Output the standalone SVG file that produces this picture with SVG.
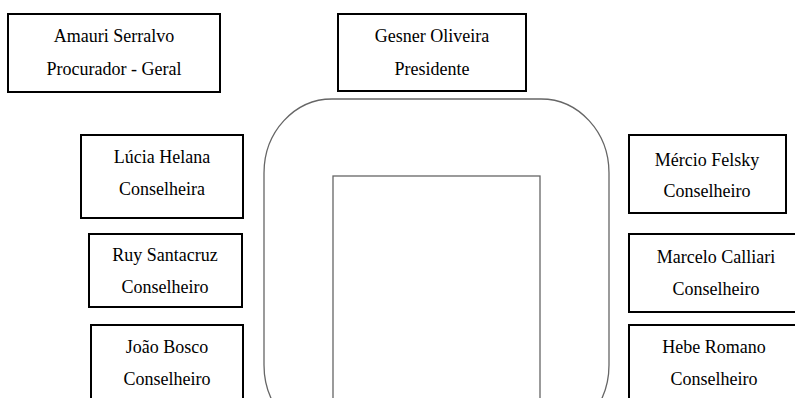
<svg xmlns="http://www.w3.org/2000/svg" width="795" height="398" viewBox="0 0 795 398">
<style>
.box{fill:#fff;stroke:#000;stroke-width:2}
.t{font-family:"Liberation Serif","Times New Roman",serif;font-size:18px;fill:#000;text-anchor:middle}
.room{fill:#fff;stroke:#666;stroke-width:1.3}
</style>
<rect width="795" height="398" fill="#fff"/>
<g id="room">
<rect class="room" x="264" y="99" width="345" height="340" rx="68" ry="74"/>
<rect class="room" x="333" y="176" width="207" height="260"/>
</g>
<g id="connectors"></g>
<g id="amauri"><rect class="box" x="8" y="14" width="212" height="78"/><text class="t" x="114" y="42">Amauri Serralvo</text><text class="t" x="114" y="75">Procurador - Geral</text></g>
<g id="gesner"><rect class="box" x="338" y="14" width="188" height="77"/><text class="t" x="432" y="42">Gesner Oliveira</text><text class="t" x="432" y="75">Presidente</text></g>
<g id="lucia"><rect class="box" x="81" y="135" width="162" height="83"/><text class="t" x="162" y="163">Lúcia Helana</text><text class="t" x="162" y="195">Conselheira</text></g>
<g id="ruy"><rect class="box" x="89" y="234" width="153" height="73"/><text class="t" x="165" y="261">Ruy Santacruz</text><text class="t" x="165" y="293">Conselheiro</text></g>
<g id="joao"><rect class="box" x="91" y="325" width="152" height="90"/><text class="t" x="167" y="353">João Bosco</text><text class="t" x="167" y="385">Conselheiro</text></g>
<g id="mercio"><rect class="box" x="629" y="135" width="157" height="78"/><text class="t" x="707" y="166">Mércio Felsky</text><text class="t" x="707" y="197">Conselheiro</text></g>
<g id="marcelo"><rect class="box" x="629" y="234" width="180" height="78"/><text class="t" x="716" y="263">Marcelo Calliari</text><text class="t" x="716" y="295">Conselheiro</text></g>
<g id="hebe"><rect class="box" x="629" y="325" width="180" height="90"/><text class="t" x="714" y="353">Hebe Romano</text><text class="t" x="714" y="385">Conselheiro</text></g>
</svg>
